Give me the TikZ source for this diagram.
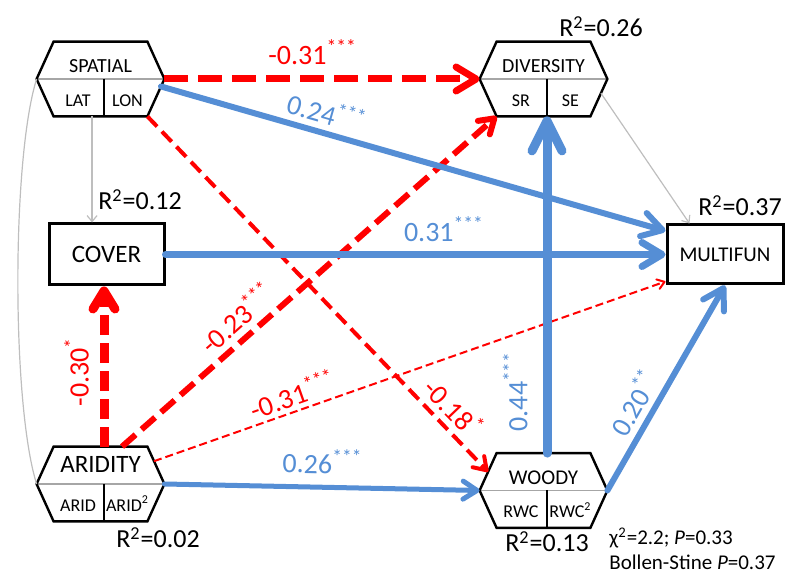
\documentclass[tikz,border=0pt]{standalone}
\usepackage{fontspec}
\setmainfont{Carlito}
\usetikzlibrary{arrows.meta,calc}

\definecolor{pathblue}{RGB}{85,142,213}
\definecolor{corrgray}{RGB}{190,190,190}

% hexagon for a composite variable: [title opts]{name}{title}{left}{right}
\newcommand{\hexvar}[5][]{%
  \draw[midline] (#2.west) -- (#2.east);
  \draw[hexline] ($(#2.north west)+(17,0)$) coordinate (#2-nw)
    -- ($(#2.north east)+(-17,0)$) coordinate (#2-ne)
    -- (#2.east)
    -- ($(#2.south east)+(-17,0)$) coordinate (#2-se)
    -- ($(#2.south west)+(17,0)$) coordinate (#2-sw)
    -- (#2.west) -- cycle;
  \draw[hexline] ($(#2.center)+(3.5,0)$) coordinate (#2-mid) -- (#2-mid |- #2.south);
  \node[hextitle,#1] (#2-title) at ($(#2.center)+(0,-6)$) {#3};
  \node[hexsub] (#2-a) at ($(#2.center)+(-22.5,27.5)$) {#4};
  \node[hexsub] (#2-b) at ($(#2.center)+(27,27.5)$) {#5};
}

\begin{document}
\begin{tikzpicture}[x=0.5pt,y=-0.5pt,
  hexbox/.style={minimum width=63.5pt,minimum height=37pt,inner sep=0pt},
  hexline/.style={line width=1.2pt},
  midline/.style={line width=0.8pt,draw=gray!70},
  hextitle/.style={inner sep=0pt,anchor=base,font=\fontsize{10}{12}\selectfont},
  hexsub/.style={inner sep=0pt,anchor=base,font=\fontsize{9}{11}\selectfont},
  varbox/.style={draw,line width=1.5pt,inner sep=0pt},
  rsq/.style={inner sep=0pt,anchor=base,font=\fontsize{13}{15}\selectfont},
  coef/.style={inner sep=0pt,sloped,font=\fontsize{14}{16}\selectfont},
  bluepath/.style={draw=pathblue,text=pathblue,line cap=round},
  redpath/.style={draw=red,text=red},
  thinarrow/.style={draw=corrgray,line width=0.6pt,-{Straight Barb[length=3pt,width=5pt]}},
  corrline/.style={draw=corrgray,line width=0.6pt}]
\useasboundingbox (0,0) rectangle (800,582);

% variables
\node[hexbox] (spatial) at (100.5,79) {};
\node[hexbox] (diversity) at (543.5,79) {};
\node[hexbox] (aridity) at (100.5,484) {};
\node[hexbox] (woody) at (543.5,490.5) {};
\hexvar{spatial}{SPATIAL}{LAT}{LON}
\hexvar{diversity}{DIVERSITY}{SR}{SE}
\hexvar[font=\fontsize{12.5}{14}\selectfont,yshift=2.5pt]{aridity}{ARIDITY}{ARID}{ARID\textsuperscript{2}}
\hexvar[font=\fontsize{10.5}{12}\selectfont]{woody}{WOODY}{RWC}{RWC\textsuperscript{2}}
\node[varbox,minimum width=57.5pt,minimum height=30.5pt,font=\fontsize{12.5}{14}\selectfont] (cover) at (106.5,254.5) {COVER};
\node[varbox,minimum width=58pt,minimum height=29.5pt,font=\fontsize{10.5}{12}\selectfont] (multifun) at (725,254.5) {MULTIFUN};

% R2 values
\node[rsq] (r-div) at (601,37) {R\textsuperscript{2}=0.26};
\node[rsq] (r-cov) at (140,210) {R\textsuperscript{2}=0.12};
\node[rsq] (r-mul) at (740,216) {R\textsuperscript{2}=0.37};
\node[rsq] (r-ari) at (158,548) {R\textsuperscript{2}=0.02};
\node[rsq] (r-woo) at (547,552) {R\textsuperscript{2}=0.13};

% fit
\node[inner sep=0pt,anchor=base west,font=\fontsize{10.5}{12}\selectfont] (fit1) at (609,545) {χ\textsuperscript{2}=2.2; \textit{P}=0.33};
\node[inner sep=0pt,anchor=base west,font=\fontsize{10.5}{12}\selectfont] (fit2) at (609,570) {Bollen-Stine \textit{P}=0.37};

% grey paths
\coordinate (sc) at ($(spatial-sw)!.41!(spatial-se)$);
\draw[thinarrow] (sc) -- (sc |- cover.north);
\draw[corrline] (spatial.west) .. controls +(-25,80) and +(-25,-80) .. (aridity.west);
\draw[thinarrow] ($(diversity.east)!.38!(diversity-se)$) -- ($(multifun.north west)+(24,0)$);

% negative paths
\draw[redpath,line width=3.5pt,dash pattern=on 12pt off 5pt,-{Straight Barb[round,length=10pt,width=12pt]}]
  (spatial.east) -- node[coef,pos=.47,above=5.5pt] (c-sd) {-0.31\textsuperscript{***}} (diversity.west);
\draw[redpath,line width=2pt,dash pattern=on 7pt off 3.5pt,-{Straight Barb[round,length=6pt,width=8pt]}]
  (spatial-se) -- node[coef,pos=.858,above=3pt] (c-sw) {-0.18\textsuperscript{*}} ($(woody.west)!.5!(woody-nw)$);
\draw[redpath,line width=4.5pt,dash pattern=on 10pt off 4pt,-{Straight Barb[round,length=9pt,width=11pt]}]
  (aridity-mid |- aridity-nw) -- node[coef,pos=.466,above=5.3pt] (c-ac) {-0.30\textsuperscript{*}} (aridity-mid |- cover.south);
\draw[redpath,line width=3pt,dash pattern=on 9pt off 4pt,-{Straight Barb[round,length=7pt,width=9pt]}]
  ($(aridity-nw)!.73!(aridity-ne)$) -- node[coef,pos=.343,above=3pt] (c-ad) {-0.23\textsuperscript{***}} (diversity-sw);
\draw[redpath,line width=1pt,dash pattern=on 4pt off 2pt,-{Straight Barb[round,length=3.5pt,width=5pt]}]
  ($(aridity-ne)!.39!(aridity.east)$) -- node[coef,pos=.282,above=2pt] (c-am) {-0.31\textsuperscript{***}} ($(multifun.south west)+(0,-4)$);

% positive paths
\draw[bluepath,line width=3pt,-{Straight Barb[round,length=10pt,width=12pt]}]
  ($(spatial.east)!.2!(spatial-se)$) -- node[coef,pos=.317,above=3pt] (c-sm) {0.24\textsuperscript{***}} ($(multifun.north west)!.12!(multifun.south west)$);
\draw[bluepath,line width=3.5pt,-{Straight Barb[round,length=10pt,width=12pt]}]
  (cover) -- node[coef,pos=.557,above=4.75pt] (c-cm) {0.31\textsuperscript{***}} (multifun);
\draw[bluepath,line width=2.5pt,-{Straight Barb[round,length=7pt,width=9pt]}]
  (aridity.east) -- node[coef,pos=.5,above=5.5pt] (c-aw) {0.26\textsuperscript{***}} (woody.west);
\draw[bluepath,line width=4.5pt,-{Straight Barb[round,length=15pt,width=15pt]}]
  (woody-mid |- woody-nw) -- node[coef,pos=.183,above=7.5pt] (c-wd) {0.44\textsuperscript{***}} (woody-mid |- diversity-sw);
\draw[bluepath,line width=3pt,-{Straight Barb[round,length=10pt,width=12pt]}]
  (woody.east) -- node[coef,pos=.378,above=3pt] (c-wm) {0.20\textsuperscript{**}} (multifun.south);
\end{tikzpicture}
\end{document}
